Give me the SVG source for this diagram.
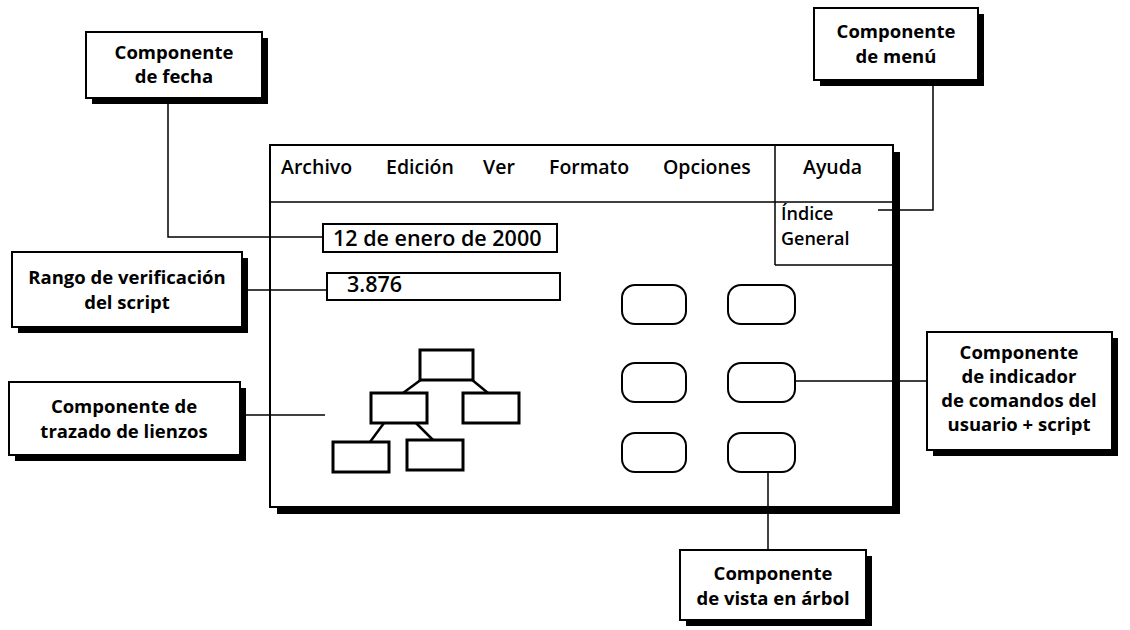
<svg xmlns="http://www.w3.org/2000/svg" width="1130" height="630" viewBox="0 0 1130 630">
<style>
text{font-family:"Open Sans","Noto Sans","Liberation Sans",sans-serif;fill:#000;}
.lbl{font-size:18.5px;font-weight:700;text-anchor:middle;}
.menu{font-size:19.5px;font-weight:600;}
.sub{font-size:18px;font-weight:600;}
.fld{font-size:21.5px;font-weight:600;}
.box{fill:#fff;stroke:#000;stroke-width:2;}
.sh{fill:#000;}
.con{fill:none;stroke:#000;stroke-width:1.5;}
.thin{fill:none;stroke:#000;stroke-width:1.5;}
.tbox{fill:#fff;stroke:#000;stroke-width:3;}
.tline{stroke:#000;stroke-width:2.5;}
.btn{fill:#fff;stroke:#000;stroke-width:2;}
</style>
<rect width="1130" height="630" fill="#fff"/>

<g id="window">
<rect class="sh" x="277" y="152" width="623" height="362"/>
<rect class="box" x="270" y="145" width="623" height="362" stroke-width="2.5"/>
<line class="thin" x1="270" y1="202" x2="893" y2="202"/>
<line class="thin" x1="775" y1="145" x2="775" y2="265"/>
<line class="thin" x1="775" y1="265" x2="893" y2="265"/>
<text class="menu" x="281" y="174">Archivo</text>
<text class="menu" x="386" y="174">Edición</text>
<text class="menu" x="483" y="174">Ver</text>
<text class="menu" x="549" y="174">Formato</text>
<text class="menu" x="663" y="174">Opciones</text>
<text class="menu" x="803" y="174">Ayuda</text>
<text class="sub" x="781" y="220">Índice</text>
<text class="sub" x="781" y="245">General</text>
</g>

<g id="date-field">
<rect class="box" x="323" y="224" width="234" height="28" stroke-width="2.5"/>
<text class="fld" x="333" y="246">12 de enero de 2000</text>
</g>

<g id="script-field">
<rect class="box" x="327" y="273" width="233" height="27" stroke-width="2.5"/>
<text class="fld" x="347" y="292">3.876</text>
</g>

<g id="tree">
<line class="tline" x1="422" y1="379" x2="403" y2="393"/>
<line class="tline" x1="471" y1="379" x2="488" y2="393"/>
<line class="tline" x1="384" y1="423" x2="370" y2="442"/>
<line class="tline" x1="416" y1="423" x2="433" y2="440"/>
<rect class="tbox" x="420" y="350" width="53" height="30"/>
<rect class="tbox" x="371" y="393" width="56" height="30"/>
<rect class="tbox" x="463" y="393" width="56" height="30"/>
<rect class="tbox" x="333" y="442" width="56" height="30"/>
<rect class="tbox" x="407" y="440" width="56" height="30"/>
</g>

<g id="buttons">
<rect class="btn" x="622" y="285" width="64" height="39" rx="13"/>
<rect class="btn" x="728" y="285" width="67" height="39" rx="13"/>
<rect class="btn" x="622" y="363" width="64" height="39" rx="13"/>
<rect class="btn" x="728" y="363" width="67" height="39" rx="13"/>
<rect class="btn" x="622" y="433" width="64" height="39" rx="13"/>
<rect class="btn" x="728" y="433" width="67" height="39" rx="13"/>
</g>

<g id="connectors">
<polyline class="con" points="168,104 168,237 323,237"/>
<line class="con" x1="248" y1="290" x2="327" y2="290"/>
<line class="con" x1="246" y1="415" x2="325" y2="415"/>
<polyline class="con" points="933,86 933,210 878,210"/>
<line class="con" x1="795" y1="381" x2="927" y2="381"/>
<line class="con" x1="768" y1="472" x2="768" y2="550"/>
</g>

<g id="callout-fecha">
<rect class="sh" x="92" y="38" width="176" height="66"/>
<rect class="box" x="86" y="32" width="176" height="66"/>
<text class="lbl" x="174" y="59">Componente</text>
<text class="lbl" x="174" y="83">de fecha</text>
</g>

<g id="callout-menu">
<rect class="sh" x="820" y="14" width="164" height="72"/>
<rect class="box" x="814" y="8" width="164" height="72"/>
<text class="lbl" x="896" y="38">Componente</text>
<text class="lbl" x="896" y="63">de menú</text>
</g>

<g id="callout-rango">
<rect class="sh" x="18" y="258" width="230" height="75"/>
<rect class="box" x="12" y="252" width="230" height="75"/>
<text class="lbl" x="127" y="284">Rango de verificación</text>
<text class="lbl" x="127" y="309">del script</text>
</g>

<g id="callout-lienzos">
<rect class="sh" x="15" y="388" width="231" height="73"/>
<rect class="box" x="9" y="382" width="231" height="73"/>
<text class="lbl" x="124" y="413">Componente de</text>
<text class="lbl" x="124" y="438">trazado de lienzos</text>
</g>

<g id="callout-indicador">
<rect class="sh" x="933" y="338" width="185" height="118"/>
<rect class="box" x="927" y="332" width="185" height="118"/>
<text class="lbl" x="1019" y="359">Componente</text>
<text class="lbl" x="1019" y="383">de indicador</text>
<text class="lbl" x="1019" y="407">de comandos del</text>
<text class="lbl" x="1019" y="431">usuario + script</text>
</g>

<g id="callout-arbol">
<rect class="sh" x="686" y="556" width="186" height="70"/>
<rect class="box" x="680" y="550" width="186" height="70"/>
<text class="lbl" x="773" y="580">Componente</text>
<text class="lbl" x="773" y="605">de vista en árbol</text>
</g>
</svg>
